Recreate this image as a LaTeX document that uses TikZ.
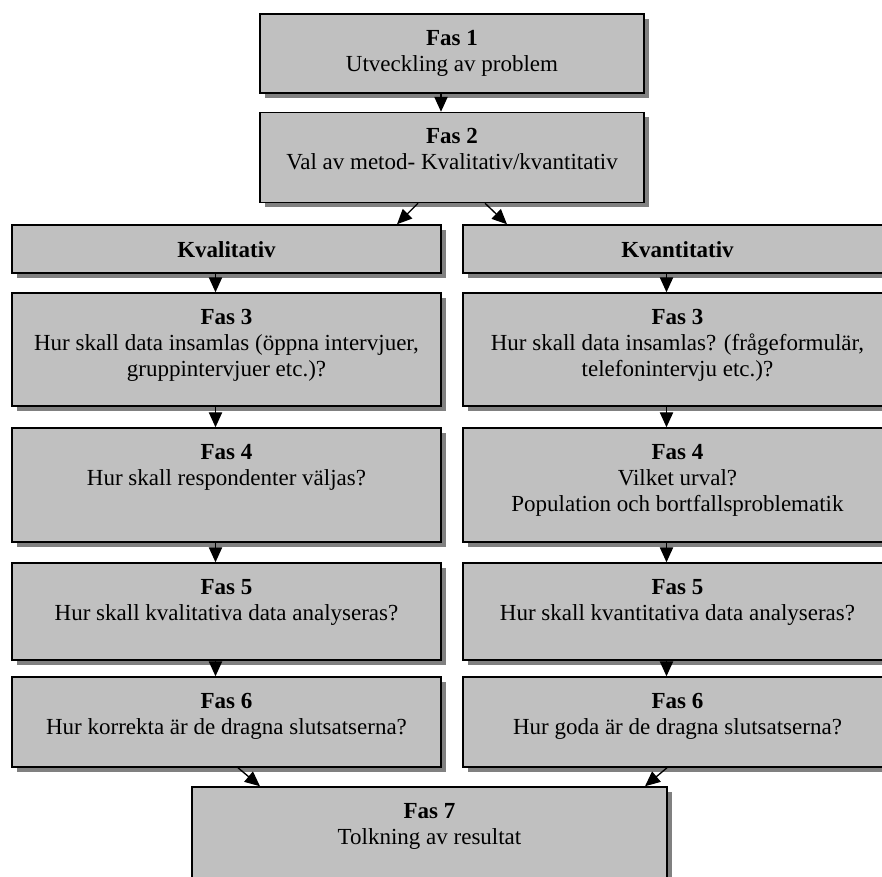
\documentclass[tikz,border=0pt]{standalone}
\usepackage{fontspec}
\setmainfont{Liberation Serif}
\usepackage{tikz}
\usetikzlibrary{positioning, shadows, arrows.meta}

\definecolor{boxgray}{HTML}{C0C0C0}
\definecolor{shadegray}{HTML}{808080}

\tikzset{
  box/.style={draw, line width=0.9pt, fill=boxgray, inner sep=0pt,
    drop shadow={shadow xshift=2.7pt, shadow yshift=-2.7pt, fill=shadegray, opacity=1}},
  lbl/.style={align=center, inner sep=0pt, font=\fontsize{13.8}{15.6}\selectfont},
  arr/.style={line width=0.8pt, -{Triangle[length=9pt,width=8pt]}}
}

\begin{document}
\begin{tikzpicture}[x=0.6pt, y=-0.6pt]
                  % Picture frame
                  \useasboundingbox (0,0) rectangle (882,877);
                  \clip (0,0) rectangle (882,877);

                  % Boxes at the top
                  \node[box, minimum width=230.4pt, minimum height=47.4pt] (f1) at (452,53.5) {};
                  \node[box, minimum width=230.4pt, minimum height=54pt] (f2) at (452,157.5) {};

                  % Left column
                  \node[box, minimum width=257.4pt, minimum height=28.8pt] (kval) at (226.5,249) {};
                  \node[box, minimum width=257.4pt, minimum height=67.8pt] (f3l) at (226.5,349.5) {};
                  \node[box, minimum width=257.4pt, minimum height=68.4pt] (f4l) at (226.5,485) {};
                  \node[box, minimum width=257.4pt, minimum height=58.2pt] (f5l) at (226.5,611.5) {};
                  \node[box, minimum width=257.4pt, minimum height=54pt] (f6l) at (226.5,722) {};

                  % Right column
                  \node[box, minimum width=257.4pt, minimum height=28.8pt] (kvan) at (677.5,249) {};
                  \node[box, minimum width=257.4pt, minimum height=67.8pt] (f3r) at (677.5,349.5) {};
                  \node[box, minimum width=257.4pt, minimum height=68.4pt] (f4r) at (677.5,485) {};
                  \node[box, minimum width=257.4pt, minimum height=58.2pt] (f5r) at (677.5,611.5) {};
                  \node[box, minimum width=257.4pt, minimum height=54pt] (f6r) at (677.5,722) {};

                  % Last box
                  \node[box, minimum width=285pt, minimum height=61.8pt] (f7) at (429.5,838.5) {};

                  % Texts
                  \node[lbl, below=10pt of f1.north] (f1t) {\textbf{Fas 1}\\Utveckling av problem};
                  \node[lbl, below=10pt of f2.north] (f2t) {\textbf{Fas 2}\\Val av metod- Kvalitativ/kvantitativ};
                  \node[lbl, below=10pt of kval.north] (kvalt) {\textbf{Kvalitativ}};
                  \node[lbl, below=10pt of kvan.north] (kvant) {\textbf{Kvantitativ}};
                  \node[lbl, below=10pt of f3l.north] (f3lt) {\textbf{Fas 3}\\Hur skall data insamlas (öppna intervjuer,\\gruppintervjuer etc.)?};
                  \node[lbl, below=10pt of f3r.north] (f3rt) {\textbf{Fas 3}\\Hur skall data insamlas? (frågeformulär,\\telefonintervju etc.)?};
                  \node[lbl, below=10pt of f4l.north] (f4lt) {\textbf{Fas 4}\\Hur skall respondenter väljas?};
                  \node[lbl, below=10pt of f4r.north] (f4rt) {\textbf{Fas 4}\\Vilket urval?\\Population och bortfallsproblematik};
                  \node[lbl, below=10pt of f5l.north] (f5lt) {\textbf{Fas 5}\\Hur skall kvalitativa data analyseras?};
                  \node[lbl, below=10pt of f5r.north] (f5rt) {\textbf{Fas 5}\\Hur skall kvantitativa data analyseras?};
                  \node[lbl, below=10pt of f6l.north] (f6lt) {\textbf{Fas 6}\\Hur korrekta är de dragna slutsatserna?};
                  \node[lbl, below=10pt of f6r.north] (f6rt) {\textbf{Fas 6}\\Hur goda är de dragna slutsatserna?};
                  \node[lbl, below=10pt of f7.north] (f7t) {\textbf{Fas 7}\\Tolkning av resultat};

                  % Arrows
                  \draw[arr] ([xshift=-6.6pt]f1.south) -- ([xshift=-6.6pt]f2.north);
                  \draw[arr] ([xshift=-20.4pt]f2.south) -- ([xshift=102.3pt]kval.north);
                  \draw[arr] ([xshift=19.8pt]f2.south) -- ([xshift=-102.3pt]kvan.north);

                  \draw[arr] ([xshift=-6.6pt]kval.south) -- ([xshift=-6.6pt]f3l.north);
                  \draw[arr] ([xshift=-6.6pt]f3l.south) -- ([xshift=-6.6pt]f4l.north);
                  \draw[arr] ([xshift=-6.6pt]f4l.south) -- ([xshift=-6.6pt]f5l.north);
                  \draw[arr] ([xshift=-6.6pt]f5l.south) -- ([xshift=-6.6pt]f6l.north);

                  \draw[arr] ([xshift=-6.6pt]kvan.south) -- ([xshift=-6.6pt]f3r.north);
                  \draw[arr] ([xshift=-6.6pt]f3r.south) -- ([xshift=-6.6pt]f4r.north);
                  \draw[arr] ([xshift=-6.6pt]f4r.south) -- ([xshift=-6.6pt]f5r.north);
                  \draw[arr] ([xshift=-6.6pt]f5r.south) -- ([xshift=-6.6pt]f6r.north);

                  \draw[arr] ([xshift=6.9pt]f6l.south) -- ([xshift=-101.7pt]f7.north);
                  \draw[arr] ([xshift=-6.3pt]f6r.south) -- ([xshift=129.3pt]f7.north);

              \end{tikzpicture}
\end{document}
